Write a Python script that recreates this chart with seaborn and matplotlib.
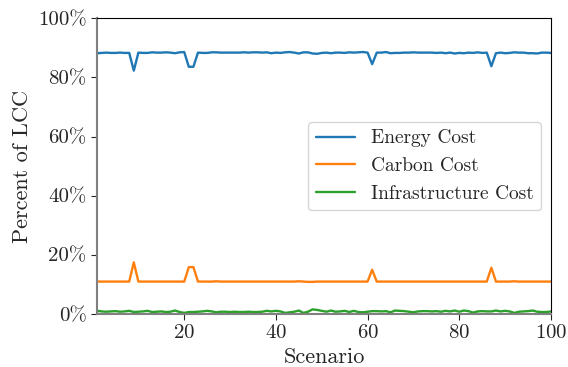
import seaborn as sns
import matplotlib.pyplot as plt
import matplotlib.ticker as mticker
import pandas as pd

# scenario index 1..100
scenarios = list(range(1, 101))

# percent of life-cycle cost
energy = [
    88.2, 88.3, 88.4, 88.3, 88.3, 88.4, 88.3, 88.3, 82.3, 88.4,
    88.3, 88.3, 88.5, 88.4, 88.4, 88.5, 88.4, 88.2, 88.5, 88.6,
    83.6, 83.6, 88.4, 88.3, 88.3, 88.5, 88.5, 88.4, 88.4, 88.4,
    88.4, 88.4, 88.5, 88.4, 88.5, 88.5, 88.4, 88.5, 88.2, 88.4,
    88.3, 88.5, 88.6, 88.4, 88.1, 88.5, 88.5, 88.1, 88.0, 88.3,
    88.4, 88.2, 88.4, 88.4, 88.3, 88.5, 88.4, 88.5, 88.6, 88.4,
    84.5, 88.4, 88.4, 88.6, 88.2, 88.3, 88.3, 88.4, 88.4, 88.5,
    88.4, 88.4, 88.4, 88.4, 88.3, 88.4, 88.2, 88.4, 88.1, 88.3,
    88.2, 88.4, 88.3, 88.5, 88.3, 88.4, 83.8, 88.2, 88.4, 88.2,
    88.3, 88.5, 88.4, 88.4, 88.2, 88.2, 88.1, 88.4, 88.4, 88.3,
]
carbon = [
    10.9, 10.9, 10.9, 10.9, 10.9, 10.9, 10.9, 10.9, 17.4, 10.9,
    10.9, 10.9, 10.9, 10.9, 10.9, 10.9, 10.9, 10.9, 10.9, 10.9,
    15.8, 15.8, 10.9, 10.9, 10.9, 10.9, 11.0, 10.9, 10.9, 10.9,
    10.9, 10.9, 10.9, 10.9, 10.9, 10.9, 10.9, 10.9, 10.9, 10.9,
    10.9, 10.9, 10.9, 10.9, 11.0, 10.9, 10.8, 10.8, 10.9, 10.9,
    10.9, 10.9, 10.9, 10.9, 10.9, 10.9, 10.9, 10.9, 10.9, 10.9,
    14.9, 10.9, 10.9, 10.9, 10.9, 10.9, 10.9, 10.9, 10.9, 10.9,
    10.9, 10.9, 10.9, 10.9, 10.9, 10.9, 10.9, 10.9, 10.9, 10.9,
    10.9, 10.9, 10.9, 10.9, 10.9, 10.9, 15.6, 10.9, 10.9, 10.9,
    10.9, 11.0, 10.9, 10.9, 10.9, 10.9, 10.9, 10.9, 10.9, 10.9,
]
infrastructure = [
    1.0, 0.8, 0.7, 0.8, 0.9, 0.7, 0.8, 1.0, 0.6, 0.7,
    0.8, 1.0, 0.6, 0.7, 0.8, 0.6, 0.7, 1.1, 0.6, 0.3,
    0.6, 0.6, 0.7, 0.8, 1.0, 0.8, 0.5, 0.7, 0.7, 0.6,
    0.7, 0.6, 0.6, 0.7, 0.6, 0.6, 0.7, 1.0, 0.8, 1.0,
    0.8, 0.3, 0.5, 0.7, 1.1, 0.3, 0.7, 1.5, 1.3, 1.0,
    0.7, 1.1, 0.7, 0.8, 1.0, 0.6, 1.0, 0.6, 0.5, 0.7,
    0.9, 0.9, 0.8, 0.9, 0.5, 1.1, 1.0, 0.9, 0.7, 0.5,
    0.8, 0.9, 0.9, 0.8, 0.9, 0.7, 1.0, 0.8, 1.1, 0.7,
    1.1, 0.9, 0.4, 0.8, 0.9, 0.8, 0.8, 1.1, 0.8, 1.0,
    0.8, 0.3, 0.7, 0.8, 0.9, 1.1, 0.7, 0.6, 0.6, 0.8,
]

df = pd.DataFrame({
    'Scenario': scenarios * 3,
    'Percent': energy + carbon + infrastructure,
    'Cost': ['Energy Cost'] * 100 + ['Carbon Cost'] * 100 + ['Infrastructure Cost'] * 100,
})

sns.set_style("ticks")
plt.rcParams['font.family'] = ['cmr10', 'DejaVu Serif']
plt.rcParams['mathtext.fontset'] = 'cm'
plt.rcParams['axes.formatter.use_mathtext'] = True

fig, ax = plt.subplots(figsize=(5.68, 3.67), dpi=100)
sns.lineplot(data=df, x='Scenario', y='Percent', hue='Cost',
             palette=['#1f77b4', '#ff7f0e', '#2ca02c'], linewidth=1.7, ax=ax)

ax.set_xlim(1, 100)
ax.set_ylim(0, 100)
ax.set_xticks([20, 40, 60, 80, 100])
ax.set_yticks([0, 20, 40, 60, 80, 100])
ax.yaxis.set_major_formatter(mticker.FuncFormatter(lambda v, p: f"{int(v)}%"))
ax.tick_params(labelsize=15, direction='out', length=4)
ax.set_xlabel('Scenario', fontsize=16)
ax.set_ylabel('Percent of LCC', fontsize=16)

for side in ['top', 'right']:
    ax.spines[side].set_color('black')
for side in ['left', 'bottom']:
    ax.spines[side].set_color('#808080')
    ax.spines[side].set_linewidth(1.5)

ax.legend(loc='center right', fontsize=14, title=None, fancybox=True, framealpha=0.8)

plt.subplots_adjust(left=0.171, right=0.97, top=0.95, bottom=0.145)
plt.savefig('out.png', dpi=100)
